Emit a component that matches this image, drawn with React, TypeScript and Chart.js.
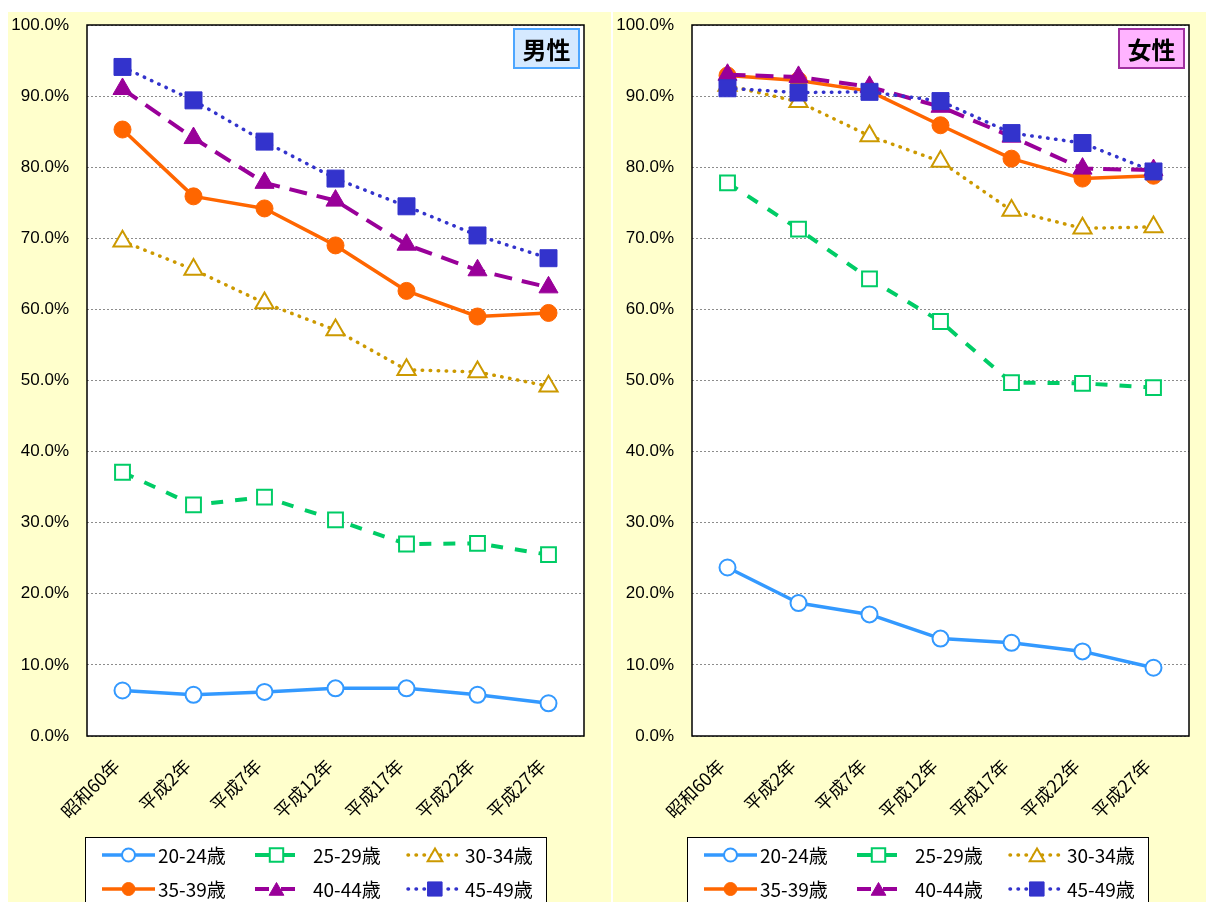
import React, { useEffect, useRef } from 'react';
import { Chart, registerables } from 'chart.js';
import { drawPoint } from 'chart.js/helpers';

Chart.register(...registerables);

const categories = ['昭和60年', '平成2年', '平成7年', '平成12年', '平成17年', '平成22年', '平成27年'];
const seriesLabels = ['20-24歳', '25-29歳', '30-34歳', '35-39歳', '40-44歳', '45-49歳'];
const yTickValues = [0, 10, 20, 30, 40, 50, 60, 70, 80, 90, 100];

// 男性
const male20_24 = [6.4, 5.8, 6.2, 6.7, 6.7, 5.8, 4.6];
const male25_29 = [37.1, 32.5, 33.6, 30.4, 27.0, 27.1, 25.5];
const male30_34 = [69.6, 65.6, 60.9, 57.1, 51.5, 51.2, 49.2];
const male35_39 = [85.3, 75.9, 74.2, 69.0, 62.6, 59.0, 59.5];
const male40_44 = [91.0, 84.1, 77.8, 75.3, 69.1, 65.5, 63.1];
const male45_49 = [94.1, 89.4, 83.6, 78.4, 74.5, 70.4, 67.2];

// 女性
const female20_24 = [23.7, 18.7, 17.1, 13.7, 13.1, 11.9, 9.6];
const female25_29 = [77.8, 71.3, 64.3, 58.3, 49.7, 49.6, 49.0];
const female30_34 = [91.5, 89.2, 84.4, 80.8, 73.9, 71.4, 71.6];
const female35_39 = [92.9, 92.2, 90.7, 85.9, 81.2, 78.4, 78.8];
const female40_44 = [93.0, 92.7, 91.3, 88.5, 84.3, 79.8, 79.6];
const female45_49 = [91.1, 90.5, 90.6, 89.3, 84.8, 83.4, 79.4];

const maleSeries = [male20_24, male25_29, male30_34, male35_39, male40_44, male45_49];
const femaleSeries = [female20_24, female25_29, female30_34, female35_39, female40_44, female45_49];

const seriesStyles = [
  { color: '#3399FF', dash: [], width: 3.5, point: 'circle', radius: 8, fill: '#FFFFFF', pbw: 2, legendR: 6.5 },
  { color: '#00CC66', dash: [12, 12], width: 4, point: 'rect', radius: 10.5, fill: '#FFFFFF', pbw: 2, legendR: 9.5 },
  { color: '#CC9900', dash: [0.5, 7.5], width: 3.5, point: 'triangle', radius: 10.5, fill: '#FFFFFF', pbw: 2, legendR: 8.5 },
  { color: '#FF6600', dash: [], width: 3.5, point: 'circle', radius: 8.5, fill: '#FF6600', pbw: 1, legendR: 6.5 },
  { color: '#990099', dash: [18, 10], width: 4, point: 'triangle', radius: 11, fill: '#990099', pbw: 1, legendR: 8.5 },
  { color: '#3333CC', dash: [0.5, 7.5], width: 3.5, point: 'rect', radius: 12, fill: '#3333CC', pbw: 1, legendR: 10 },
];

const PLOT_LEFT = 79;
const PLOT_RIGHT = 576;
const PLOT_TOP = 11;
const PLOT_BOTTOM = 724;
const CANVAS_H = 890;

const bgPlugin = {
  id: 'plotBg',
  beforeDraw(chart: any) {
    const a = chart.chartArea;
    const ctx = chart.ctx;
    ctx.save();
    ctx.fillStyle = '#FFFFFF';
    ctx.fillRect(a.left, a.top, a.right - a.left, a.bottom - a.top);
    ctx.restore();
  },
};

const extrasPlugin = {
  id: 'extras',
  afterDraw(chart: any) {
    const ctx = chart.ctx;
    const a = chart.chartArea;
    const o = chart.options.plugins.extras;
    ctx.save();
    ctx.strokeStyle = '#000';
    ctx.lineWidth = 1.5;
    ctx.setLineDash([]);
    ctx.strokeRect(a.left, a.top, a.right - a.left, a.bottom - a.top);

    const tw = 65, th = 39;
    const tx = a.right - 5 - tw, ty = a.top + 4;
    ctx.fillStyle = o.titleBg;
    ctx.fillRect(tx, ty, tw, th);
    ctx.strokeStyle = o.titleBorder;
    ctx.lineWidth = 2;
    ctx.strokeRect(tx, ty, tw, th);
    ctx.fillStyle = '#000';
    ctx.font = 'bold 24px "Noto Sans CJK JP"';
    ctx.textAlign = 'center';
    ctx.textBaseline = 'middle';
    ctx.fillText(o.title, tx + tw / 2, ty + th / 2 + 1);

    const lx = o.legendLeft, ly = 825;
    ctx.fillStyle = '#FFFFFF';
    ctx.fillRect(lx, ly, 461, 80);
    ctx.strokeStyle = '#000';
    ctx.lineWidth = 1;
    ctx.strokeRect(lx + 0.5, ly + 0.5, 461, 80);
    const cols = [
      { s: 17, e: 70, t: 73 },
      { s: 170, e: 213, t: 228 },
      { s: 323, e: 377, t: 380 },
    ];
    const rows = [843, 877];
    chart.data.datasets.forEach((ds: any, i: number) => {
      const c = cols[i % 3];
      const y = rows[Math.floor(i / 3)];
      const st = seriesStyles[i];
      ctx.save();
      ctx.strokeStyle = st.color;
      ctx.lineWidth = st.width;
      const dotted = st.dash.length > 0 && st.dash[0] < 1;
      ctx.lineCap = dotted ? 'round' : 'butt';
      ctx.setLineDash(st.dash.length && !dotted ? [14, 12] : st.dash);
      ctx.beginPath();
      ctx.moveTo(lx + c.s, y);
      ctx.lineTo(lx + c.e, y);
      ctx.stroke();
      ctx.setLineDash([]);
      ctx.fillStyle = st.fill;
      ctx.strokeStyle = st.color;
      ctx.lineWidth = st.pbw;
      drawPoint(ctx, { pointStyle: st.point, rotation: 0, radius: st.legendR, borderWidth: st.pbw }, lx + (c.s + c.e) / 2, y + (st.point === 'triangle' ? 2 : 0));
      ctx.restore();
      ctx.fillStyle = '#000';
      ctx.font = '19px "Noto Sans CJK JP"';
      ctx.textAlign = 'left';
      ctx.textBaseline = 'middle';
      ctx.fillText(ds.label, lx + c.t, y + 1);
    });
    ctx.restore();
  },
};

function Panel(props: { left: number; width: number; series: number[][]; title: string; titleBg: string; titleBorder: string; legendLeft: number }) {
  const ref = useRef<HTMLCanvasElement>(null);
  useEffect(() => {
    const chart = new Chart(ref.current as HTMLCanvasElement, {
      type: 'line',
      data: {
        labels: categories,
        datasets: props.series.map((vals, i) => {
          const st = seriesStyles[i];
          return {
            label: seriesLabels[i],
            data: vals,
            order: 5 - i,
            borderColor: st.color,
            borderWidth: st.width,
            borderDash: st.dash,
            borderCapStyle: st.dash.length && st.dash[0] < 1 ? 'round' : 'butt',
            borderJoinStyle: 'round',
            pointStyle: st.point,
            pointRadius: st.radius,
            pointHoverRadius: st.radius,
            pointBackgroundColor: st.fill,
            pointBorderColor: st.color,
            pointBorderWidth: st.pbw,
            tension: 0,
            fill: false,
          } as any;
        }),
      },
      options: {
        responsive: false,
        animation: false,
        events: [],
        layout: { padding: { top: PLOT_TOP, right: props.width - PLOT_RIGHT, left: 0, bottom: 0 } },
        plugins: {
          legend: { display: false },
          tooltip: { enabled: false },
          extras: { title: props.title, titleBg: props.titleBg, titleBorder: props.titleBorder, legendLeft: props.legendLeft },
        } as any,
        scales: {
          x: {
            type: 'category',
            offset: true,
            grid: { display: false, drawTicks: false },
            border: { display: false },
            ticks: {
              minRotation: 45,
              maxRotation: 45,
              autoSkip: false,
              padding: 19,
              labelOffset: -6,
              color: '#000',
              font: { family: '"Noto Sans CJK JP"', size: 18 },
            },
            afterFit: (s: any) => {
              s.height = CANVAS_H - PLOT_BOTTOM;
              s.paddingLeft = 0;
              s.paddingRight = 0;
              s.paddingTop = 0;
              s.paddingBottom = 0;
            },
          },
          y: {
            min: 0,
            max: 100,
            afterBuildTicks: (s: any) => { s.ticks = yTickValues.map((v) => ({ value: v })); },
            ticks: {
              padding: 18,
              color: '#000',
              font: { family: '"Liberation Sans", Arial, sans-serif', size: 17 },
              callback: (v: any) => Number(v).toFixed(1) + '%',
            },
            grid: { color: '#8c8c8c', lineWidth: 1, drawTicks: false },
            border: { display: false, dash: [2, 2] },
            afterFit: (s: any) => {
              s.width = PLOT_LEFT;
              s.paddingTop = 0;
              s.paddingBottom = 0;
              s.paddingLeft = 0;
              s.paddingRight = 0;
            },
          },
        },
      },
      plugins: [bgPlugin, extrasPlugin],
    });
    return () => chart.destroy();
  }, []);
  return (
    <div style={{ position: 'absolute', left: props.left, top: 12, width: props.width, height: CANVAS_H, background: '#FFFFCC' }}>
      <canvas ref={ref} width={props.width} height={CANVAS_H} style={{ display: 'block', width: props.width, height: CANVAS_H }} />
    </div>
  );
}

export default function App() {
  return (
    <div>
      <Panel left={8} width={603} series={maleSeries} title="男性" titleBg="#D5E9FF" titleBorder="#4DA6FF" legendLeft={77} />
      <Panel left={613} width={593} series={femaleSeries} title="女性" titleBg="#FFB3FF" titleBorder="#A030A0" legendLeft={74} />
    </div>
  );
}
